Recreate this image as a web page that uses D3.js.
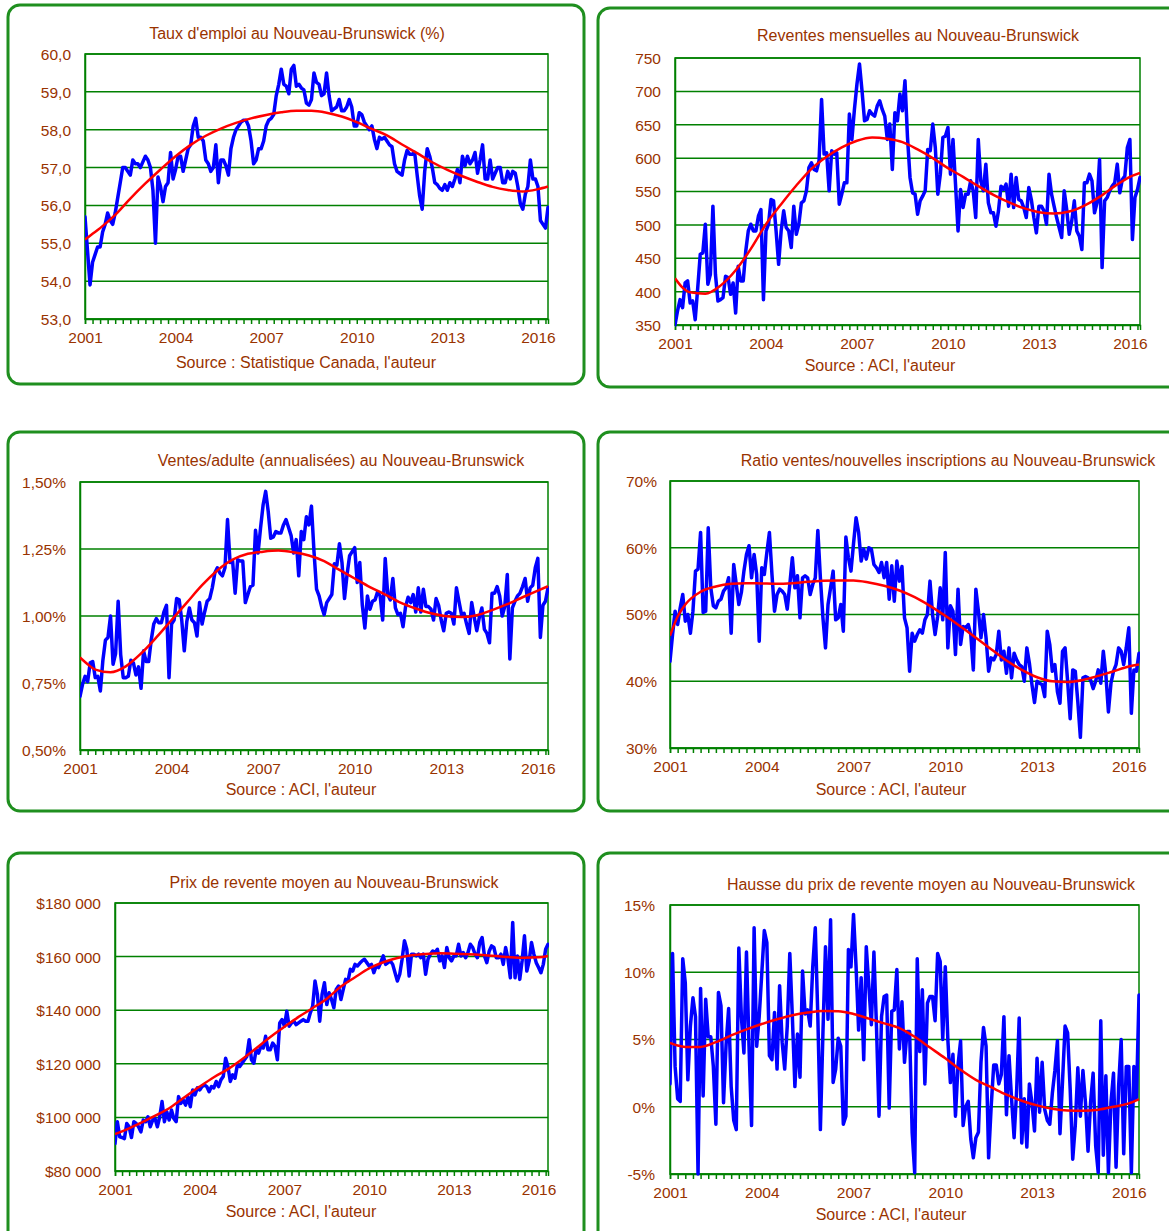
<!DOCTYPE html>
<html>
<head>
<meta charset="utf-8">
<script src="https://cdn.jsdelivr.net/npm/d3@7"></script>
<style>
  body { margin: 0; background: #ffffff; }
  svg { display: block; }
  text { font-family: "Liberation Sans", Arial, sans-serif; }
</style>
</head>
<body>
<svg id="chart" width="1169" height="1231"></svg>
<script>
// Monthly series, January 2001 to May 2016 (185 months, one row per year)
const yearLabels = ["2001", "2004", "2007", "2010", "2013", "2016"];
const yearMonthIndex = [0, 36, 72, 108, 144, 180];

// Month indices at which each smoothed trend is given
const trendMonths = [0, 3, 6, 12, 18, 24, 30, 36, 42, 48, 54, 60, 66, 72, 78, 84, 90, 96,
  102, 108, 114, 120, 126, 132, 138, 144, 150, 156, 162, 168, 174, 180, 184];

// Taux d'emploi (%)
const tauxEmploi = [
  55.7, 54.8, 53.9, 54.5, 54.7, 54.9, 54.9, 55.3, 55.5, 55.8, 55.6, 55.5,
  55.8, 56.2, 56.6, 57.0, 57.0, 56.9, 56.8, 57.2, 57.1, 57.1, 57.0, 57.15,
  57.3, 57.2, 57.0, 56.4, 55.0, 56.75, 56.5, 56.1, 56.5, 56.6, 57.4, 56.7,
  56.95, 57.3, 57.3, 56.9, 57.2, 57.5, 57.6, 58.1, 58.3, 57.8, 57.8, 57.7,
  57.2, 57.1, 56.9, 57.0, 57.6, 56.6, 57.2, 57.2, 57.05, 56.8, 57.5, 57.8,
  58.0, 58.1, 58.2, 58.25, 58.25, 58.1, 57.7, 57.1, 57.2, 57.5, 57.5, 57.7,
  58.1, 58.25, 58.3, 58.4, 58.9, 59.2, 59.6, 59.2, 59.15, 58.95, 59.6, 59.7,
  59.15, 59.2, 59.1, 59.05, 58.7, 58.65, 58.8, 59.5, 59.25, 59.2, 58.9, 58.95,
  59.5, 58.9, 58.5, 58.55, 58.6, 58.8, 58.5, 58.5, 58.6, 58.8, 58.6, 58.1,
  58.1, 58.45, 58.4, 58.2, 58.1, 58.0, 58.1, 57.75, 57.5, 57.8, 57.75, 57.8,
  57.7, 57.6, 57.55, 57.1, 56.9, 56.85, 56.8, 57.2, 57.45, 57.35, 57.35, 57.4,
  56.8, 56.25, 55.9, 56.9, 57.5, 57.3, 57.0, 56.6, 56.55, 56.45, 56.4, 56.55,
  56.4, 56.6, 56.5, 56.7, 56.95, 56.6, 57.3, 57.05, 57.3, 57.1, 57.2, 57.4,
  56.85, 57.2, 57.6, 56.7, 56.7, 57.2, 56.7, 56.85, 57.0, 57.0, 56.6, 56.6,
  56.9, 56.7, 56.9, 56.85, 56.5, 56.05, 55.9, 56.3, 56.5, 57.2, 56.7, 56.7,
  56.5, 55.6, 55.5, 55.4, 55.95
];
const tauxEmploiTendance = [55.1, 55.25, 55.4, 55.75, 56.18, 56.58, 56.95, 57.3, 57.6, 57.84, 58.03,
  58.18, 58.3, 58.39, 58.46, 58.5, 58.5, 58.45, 58.35, 58.2, 58.02, 57.85, 57.61, 57.38, 57.14,
  56.94, 56.77, 56.62, 56.49, 56.41, 56.37, 56.43, 56.5];
const tauxEmploiTicks = [53, 54, 55, 56, 57, 58, 59, 60];

// Reventes mensuelles
const reventes = [
  350, 371, 388, 376, 413, 416, 383, 386, 358, 406, 456, 458,
  501, 411, 426, 528, 426, 386, 388, 391, 423, 421, 396, 413,
  368, 438, 416, 416, 461, 491, 501, 491, 491, 513, 523, 388,
  491, 501, 538, 536, 491, 441, 491, 521, 496, 491, 466, 528,
  486, 501, 533, 536, 551, 586, 593, 583, 581, 596, 688, 606,
  608, 551, 611, 606, 608, 531, 546, 563, 563, 666, 628, 673,
  711, 741, 701, 656, 658, 671, 666, 663, 678, 686, 673, 663,
  628, 651, 583, 668, 656, 696, 671, 716, 631, 571, 548, 546,
  516, 536, 543, 551, 613, 611, 651, 616, 546, 576, 631, 633,
  646, 576, 628, 561, 491, 553, 526, 546, 546, 566, 551, 511,
  628, 566, 551, 591, 533, 518, 518, 498, 521, 558, 553, 561,
  528, 576, 526, 571, 538, 536, 526, 511, 556, 538, 511, 488,
  528, 528, 521, 501, 576, 546, 528, 511, 496, 481, 551, 523,
  486, 506, 536, 491, 483, 463, 563, 563, 576, 566, 518, 533,
  598, 436, 536, 541, 551, 558, 563, 591, 548, 568, 573, 616,
  628, 478, 541, 553, 571
];
const reventesTendance = [420, 406, 399, 397, 409, 432, 464, 501, 531, 559, 584, 602, 616, 626,
  631, 629, 624, 613, 600, 585, 572, 558, 545, 534, 525, 519, 517, 520, 529, 542, 558, 572, 578];
const reventesTicks = [350, 400, 450, 500, 550, 600, 650, 700, 750];

// Ventes par adulte, annualisées (%)
const ventesAdulte = [
  0.70, 0.745, 0.775, 0.755, 0.825, 0.83, 0.77, 0.775, 0.72, 0.835, 0.91, 0.92,
  1.00, 0.82, 0.86, 1.055, 0.855, 0.77, 0.77, 0.775, 0.835, 0.825, 0.78, 0.81,
  0.73, 0.87, 0.83, 0.83, 0.91, 0.97, 0.99, 0.975, 0.975, 1.015, 1.04, 0.77,
  0.97, 0.985, 1.065, 1.06, 0.985, 0.87, 0.98, 1.03, 0.985, 0.975, 0.925, 1.05,
  0.97, 1.015, 1.055, 1.065, 1.105, 1.16, 1.18, 1.16, 1.15, 1.18, 1.36, 1.20,
  1.205, 1.085, 1.21, 1.205, 1.205, 1.05, 1.08, 1.11, 1.115, 1.32, 1.235, 1.33,
  1.415, 1.465, 1.39, 1.29, 1.295, 1.315, 1.31, 1.31, 1.34, 1.36, 1.33, 1.30,
  1.235, 1.285, 1.15, 1.315, 1.285, 1.37, 1.34, 1.41, 1.24, 1.10, 1.075, 1.035,
  1.005, 1.05, 1.065, 1.08, 1.195, 1.19, 1.27, 1.20, 1.065, 1.155, 1.225, 1.24,
  1.255, 1.125, 1.20, 1.04, 0.955, 1.075, 1.025, 1.055, 1.06, 1.09, 1.075, 0.985,
  1.215, 1.08, 1.06, 1.14, 1.03, 1.005, 1.01, 0.96, 1.035, 1.07, 1.05, 1.08,
  1.015, 1.105, 1.015, 1.10, 1.035, 1.035, 1.025, 0.985, 1.065, 1.04, 0.985, 0.945,
  1.01, 1.015, 1.01, 0.97, 1.105, 1.055, 1.005, 1.01, 0.97, 0.935, 1.05, 0.995,
  0.945, 0.995, 1.03, 0.95, 0.935, 0.90, 1.085, 1.085, 1.11, 1.075, 1.00, 1.035,
  1.155, 0.84, 1.03, 1.055, 1.075, 1.085, 1.11, 1.14, 1.055, 1.105, 1.115, 1.18,
  1.215, 0.92, 1.04, 1.055, 1.105
];
const ventesAdulteTendance = [0.845, 0.82, 0.80, 0.79, 0.812, 0.86, 0.92, 0.985, 1.05, 1.115, 1.17,
  1.21, 1.232, 1.24, 1.244, 1.238, 1.226, 1.205, 1.172, 1.14, 1.108, 1.08, 1.05, 1.028, 1.01,
  0.999, 0.996, 1.003, 1.022, 1.044, 1.07, 1.095, 1.111];
const ventesAdulteTicks = [0.50, 0.75, 1.00, 1.25, 1.50];

// Ratio ventes / nouvelles inscriptions (%)
const ratioVentes = [
  43.0, 47.0, 50.5, 48.5, 51.0, 53.0, 49.0, 50.0, 47.2, 50.5, 56.5, 56.8,
  62.3, 50.3, 50.5, 63.0, 54.0, 51.3, 51.0, 52.0, 52.3, 53.5, 54.0, 55.5,
  47.2, 57.5, 54.5, 51.5, 53.3, 56.5, 59.0, 60.3, 55.5, 59.0, 56.0, 46.0,
  57.0, 56.0, 59.3, 62.3, 56.0, 50.5, 53.0, 53.8, 53.5, 53.0, 50.8, 54.5,
  58.5, 54.0, 55.8, 49.5, 55.5, 55.8, 55.5, 53.0, 54.5, 55.5, 62.6, 55.5,
  49.5, 45.0, 51.5, 54.0, 56.5, 49.2, 49.5, 51.5, 47.5, 61.6, 58.5, 56.5,
  60.6, 64.5, 62.3, 58.0, 59.8, 58.3, 60.0, 59.8, 57.5, 57.0, 56.3, 57.8,
  55.5, 57.8, 52.3, 57.3, 52.0, 58.0, 55.0, 57.2, 49.5, 48.0, 41.5, 47.2,
  46.0, 47.0, 47.7, 47.2, 49.2, 50.0, 55.0, 50.0, 47.0, 49.7, 54.0, 49.2,
  59.3, 45.0, 51.3, 50.5, 44.0, 53.8, 45.5, 48.2, 48.0, 48.5, 47.0, 41.7,
  53.8, 50.5, 46.5, 50.0, 46.5, 41.5, 43.5, 43.2, 44.0, 47.5, 43.2, 44.5,
  41.2, 45.0, 40.5, 44.2, 43.2, 42.5, 42.2, 40.0, 45.0, 42.7, 39.5, 36.8,
  40.0, 39.7, 39.5, 37.7, 47.5, 45.5, 41.5, 42.5, 38.4, 36.7, 44.5, 45.0,
  40.0, 34.4, 41.7, 41.5, 36.9, 31.6, 40.5, 40.7, 40.5, 40.2, 38.9, 40.0,
  41.7, 39.7, 44.5, 41.0, 35.4, 39.7, 41.5, 42.5, 45.0, 44.5, 42.5, 45.0,
  48.0, 35.2, 41.7, 41.5, 44.2
];
const ratioVentesTendance = [46.8, 49.7, 51.5, 53.4, 54.2, 54.6, 54.7, 54.65, 54.6, 54.7, 54.9,
  55.05, 55.1, 55.1, 54.8, 54.3, 53.6, 52.6, 51.3, 49.8, 48.2, 46.5, 44.8, 43.1, 41.7, 40.6,
  40.0, 39.9, 40.2, 40.8, 41.5, 42.2, 42.5];
const ratioVentesTicks = [30, 40, 50, 60, 70];

// Prix de revente moyen ($)
const prixMoyen = [
  90250, 98400, 92750, 92500, 92100, 97750, 96500, 92500, 98400, 97750, 96500, 94600,
  99000, 98400, 100250, 96500, 99000, 99600, 96500, 100250, 105900, 98400, 102100, 99000,
  102750, 99600, 98400, 107750, 105250, 106500, 104600, 107750, 104000, 110250, 108400, 111000,
  110250, 111500, 112100, 111500, 109600, 111500, 111000, 113400, 111500, 114000, 115250, 122100,
  119000, 113400, 115900, 114600, 119600, 119000, 120250, 121500, 122750, 129000, 121500, 120250,
  125250, 124000, 126500, 125900, 130250, 125250, 125250, 127750, 126500, 121500, 135250, 136500,
  134000, 139600, 134000, 135250, 135900, 134600, 135250, 135900, 136500, 135900, 135900, 139000,
  141500, 150900, 145900, 135900, 145900, 150250, 142100, 146500, 144000, 140900, 147750, 149000,
  144000, 147750, 151500, 150900, 155250, 154600, 157100, 156500, 157500, 158400, 159000, 157750,
  156500, 157100, 154000, 156500, 155900, 158000, 160250, 157100, 157750, 158400, 157100, 154000,
  150900, 153400, 159000, 165900, 162750, 152750, 160900, 160900, 160250, 160900, 159600, 160900,
  153400, 159000, 160900, 162100, 161500, 162750, 158400, 160250, 155900, 163400, 159600, 158400,
  160250, 160250, 164600, 160250, 161500, 159600, 161500, 164600, 163400, 160900, 159600, 165250,
  167100, 160250, 157750, 162000, 164000, 163400, 159600, 159600, 160900, 157100, 163400, 159000,
  152100, 172750, 152100, 160250, 151500, 158400, 167750, 154600, 158400, 165250, 160900, 157750,
  155900, 154000, 157100, 162750, 164600
];
const prixMoyenTendance = [93750, 94800, 95900, 98400, 101000, 104000, 107800, 111500, 115000,
  118000, 121700, 125800, 130000, 133800, 137500, 140800, 144300, 148800, 152300, 155600, 157900,
  159500, 160500, 161000, 161250, 161100, 160900, 160600, 160200, 159800, 159600, 159750, 160250];
const prixMoyenTicks = [80000, 100000, 120000, 140000, 160000, 180000];

// Hausse annuelle du prix moyen (%)
const haussePrix = [
  1.7, 11.4, 3.0, 0.6, 0.4, 11.0, 9.2, 2.0, 6.0, 8.1, 6.7, -5.0,
  8.8, 0.8, 8.0, 5.2, 5.2, 3.0, -1.3, 8.5, 7.5, 0.3, 4.6, 7.3,
  1.5, -1.0, -1.7, 11.8, 6.7, 4.0, 11.5, 4.5, -1.4, 13.3, 4.5, 6.7,
  9.9, 13.1, 12.2, 3.8, 3.5, 7.0, 2.8, 9.0, 4.8, 2.8, 6.0, 11.4,
  6.7, 1.5, 5.4, 2.2, 10.1, 6.9, 7.2, 6.0, 10.4, 13.3, 6.7, -1.7,
  5.5, 11.9, 6.5, 13.9, 1.8, 2.8, 5.1, 4.5, -1.3, -0.7, 11.7, 10.4,
  14.3, 10.4, 5.7, 9.6, 3.5, 11.9, 9.0, 6.1, 11.5, 6.0, -0.7, 6.7,
  8.2, 8.3, -0.1, 7.1, 7.2, 10.2, 4.3, 7.8, 3.3, 5.6, 5.6, -1.9,
  -4.9, 11.0, 4.1, 8.7, 1.7, 7.7, 8.2, 8.2, 6.4, 11.4, 10.8, 5.0,
  10.4, 5.0, 1.8, 3.9, -0.7, 3.1, 4.9, -1.4, 0.0, 0.4, -2.4, -3.8,
  -2.3, -1.9, 3.3, 5.9, 4.5, -3.8, 0.0, 3.1, 3.1, 1.7, 2.4, 6.7,
  -0.6, 3.8, 0.6, -2.3, 1.2, 6.6, -2.7, 0.6, -3.0, 1.7, 0.3, -1.8,
  3.6, -0.4, 3.3, -0.2, -1.0, -1.3, 1.0, 2.7, 4.9, -2.0, 1.9, 6.0,
  5.5, 1.3, -3.9, -1.4, 2.9, -0.7, 2.7, 0.3, -3.3, 0.3, 2.5, -2.9,
  -4.9, 6.4, -3.6, 2.3, -4.9, 0.3, 2.5, -4.5, 1.5, 5.0, -3.5, 3.0,
  3.0, -4.9, 3.0, 0.6, 8.3
];
const haussePrixTendance = [4.75, 4.55, 4.45, 4.45, 4.8, 5.3, 5.75, 6.15, 6.5, 6.8, 7.0, 7.12, 7.1,
  6.9, 6.55, 6.2, 5.85, 5.2, 4.4, 3.6, 2.75, 2.0, 1.45, 0.9, 0.45, 0.1, -0.15, -0.28, -0.3,
  -0.22, 0.0, 0.25, 0.55];
const haussePrixTicks = [-5, 0, 5, 10, 15];

// Number formatting in Canadian French
const locale = d3.formatLocale({
  decimal: ",", thousands: " ", grouping: [3], currency: ["$", ""], minus: "-"
});
const fmtOneDec = locale.format(".1f");
const fmtInt = locale.format("d");
const fmtPct2 = v => locale.format(".2f")(v) + "%";
const fmtPct0 = v => locale.format("d")(v) + "%";
const fmtDollar = locale.format("$,.0f");

const TEXT = "#993300";
const GRID = "#008000";
const FRAME = "#1f8f1f";

const panels = [
  { title: "Taux d'emploi au Nouveau-Brunswick (%)", source: "Source : Statistique Canada, l'auteur",
    values: tauxEmploi, trend: tauxEmploiTendance, ticks: tauxEmploiTicks, fmt: fmtOneDec,
    frame: [8, 5, 576, 379], plot: [85, 54, 548, 319], titlePos: [297, 39], sourcePos: [306, 368],
    yLabelX: 71, xLabelY: 343 },
  { title: "Reventes mensuelles au Nouveau-Brunswick", source: "Source : ACI, l'auteur",
    values: reventes, trend: reventesTendance, ticks: reventesTicks, fmt: fmtInt,
    frame: [598, 8, 590, 379], plot: [675, 58, 1140, 325], titlePos: [918, 41], sourcePos: [880, 371],
    yLabelX: 661, xLabelY: 349 },
  { title: "Ventes/adulte (annualisées) au Nouveau-Brunswick", source: "Source : ACI, l'auteur",
    values: ventesAdulte, trend: ventesAdulteTendance, ticks: ventesAdulteTicks, fmt: fmtPct2,
    frame: [8, 432, 576, 379], plot: [80, 482, 548, 750], titlePos: [341, 466], sourcePos: [301, 795],
    yLabelX: 66, xLabelY: 774 },
  { title: "Ratio ventes/nouvelles inscriptions au Nouveau-Brunswick", source: "Source : ACI, l'auteur",
    values: ratioVentes, trend: ratioVentesTendance, ticks: ratioVentesTicks, fmt: fmtPct0,
    frame: [598, 432, 590, 379], plot: [670, 481, 1139, 748], titlePos: [948, 466], sourcePos: [891, 795],
    yLabelX: 657, xLabelY: 772 },
  { title: "Prix de revente moyen au Nouveau-Brunswick", source: "Source : ACI, l'auteur",
    values: prixMoyen, trend: prixMoyenTendance, ticks: prixMoyenTicks, fmt: fmtDollar,
    frame: [8, 853, 576, 390], plot: [115, 903, 548, 1171], titlePos: [334, 888], sourcePos: [301, 1217],
    yLabelX: 101, xLabelY: 1195 },
  { title: "Hausse du prix de revente moyen au Nouveau-Brunswick", source: "Source : ACI, l'auteur",
    values: haussePrix, trend: haussePrixTendance, ticks: haussePrixTicks, fmt: fmtPct0,
    frame: [598, 853, 590, 390], plot: [670, 905, 1139, 1174], titlePos: [931, 890], sourcePos: [891, 1220],
    yLabelX: 655, xLabelY: 1198 }
];

const svg = d3.select("#chart");
const lastMonth = 184;

panels.forEach((p, i) => {
  const [l, t, r, b] = p.plot;
  const g = svg.append("g");

  // Rounded panel frame
  g.append("rect")
    .attr("x", p.frame[0]).attr("y", p.frame[1])
    .attr("width", p.frame[2]).attr("height", p.frame[3])
    .attr("rx", 12).attr("ry", 12)
    .attr("fill", "#ffffff").attr("stroke", FRAME).attr("stroke-width", 3);

  const x = d3.scaleLinear().domain([0, lastMonth]).range([l, r]);
  const y = d3.scaleLinear().domain(d3.extent(p.ticks)).range([b, t]);

  // Horizontal gridlines
  g.append("g").selectAll("line").data(p.ticks).join("line")
    .attr("x1", l).attr("x2", r)
    .attr("y1", d => y(d)).attr("y2", d => y(d))
    .attr("stroke", GRID).attr("stroke-width", 1.5);

  // Plot border
  g.append("rect")
    .attr("x", l).attr("y", t).attr("width", r - l).attr("height", b - t)
    .attr("fill", "none").attr("stroke", GRID).attr("stroke-width", 1.5);

  // Y axis labels
  const yAxis = d3.axisLeft(y).tickValues(p.ticks).tickSize(0).tickFormat(p.fmt);
  const ya = g.append("g").attr("transform", `translate(${l},0)`).call(yAxis);
  ya.select(".domain").attr("stroke", GRID).attr("stroke-width", 1.5);
  ya.selectAll("text")
    .attr("x", -(l - p.yLabelX)).attr("dy", "0.35em")
    .attr("fill", TEXT).style("font-size", "15.5px").style("font-family", '"Liberation Sans", Arial, sans-serif');

  // X axis: quarterly ticks, year labels every three years
  const xAxis = d3.axisBottom(x)
    .tickValues(d3.range(0, lastMonth + 1, 3))
    .tickSize(5)
    .tickFormat(m => {
      const k = yearMonthIndex.indexOf(m);
      return k >= 0 ? yearLabels[k] : "";
    });
  const xa = g.append("g").attr("transform", `translate(0,${b})`).call(xAxis);
  xa.select(".domain").attr("stroke", GRID).attr("stroke-width", 1.5);
  xa.selectAll(".tick line").attr("stroke", GRID).attr("stroke-width", 1.5);
  xa.selectAll("text")
    .attr("y", p.xLabelY - b).attr("dy", null)
    .attr("fill", TEXT).style("font-size", "15.5px").style("font-family", '"Liberation Sans", Arial, sans-serif');

  // Clip region for the series
  const clipId = "clip" + i;
  svg.append("clipPath").attr("id", clipId)
    .append("rect").attr("x", l).attr("y", t - 2).attr("width", r - l + 1).attr("height", b - t + 4);

  const series = g.append("g").attr("clip-path", `url(#${clipId})`);

  const line = d3.line().x((d, k) => x(k)).y(d => y(d));
  series.append("path")
    .datum(p.values)
    .attr("d", line)
    .attr("fill", "none").attr("stroke", "#0000ff").attr("stroke-width", 3.5)
    .attr("stroke-linejoin", "round").attr("stroke-linecap", "round");

  const trendLine = d3.line()
    .x((d, k) => x(trendMonths[k])).y(d => y(d))
    .curve(d3.curveMonotoneX);
  series.append("path")
    .datum(p.trend)
    .attr("d", trendLine)
    .attr("fill", "none").attr("stroke", "#ff0000").attr("stroke-width", 2.5);

  // Title and source
  g.append("text")
    .attr("x", p.titlePos[0]).attr("y", p.titlePos[1])
    .attr("text-anchor", "middle").attr("fill", TEXT)
    .style("font-size", "16px")
    .text(p.title);
  g.append("text")
    .attr("x", p.sourcePos[0]).attr("y", p.sourcePos[1])
    .attr("text-anchor", "middle").attr("fill", TEXT)
    .style("font-size", "16px")
    .text(p.source);
});
</script>
</body>
</html>
